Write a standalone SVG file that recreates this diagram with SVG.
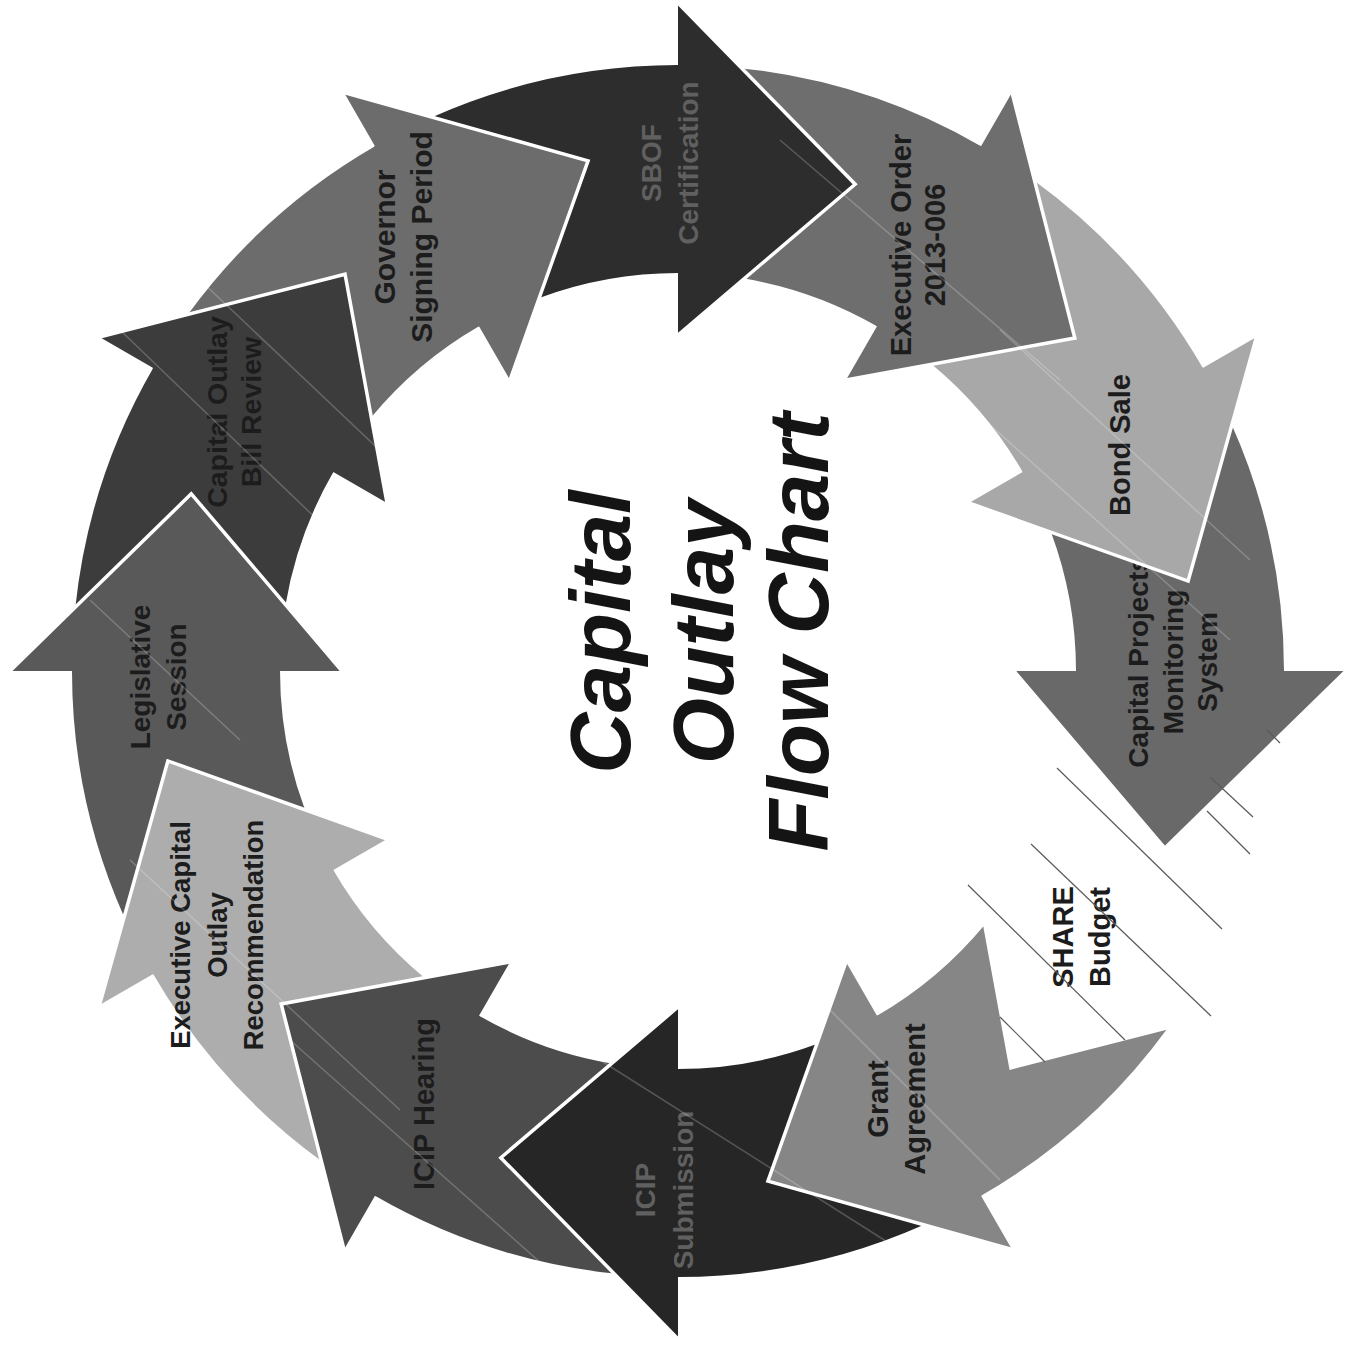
<svg xmlns="http://www.w3.org/2000/svg" xmlns:xlink="http://www.w3.org/1999/xlink" width="1349" height="1348" viewBox="0 0 1349 1348">
<style>
.lbl{font-family:"Liberation Sans",Arial,sans-serif;font-weight:bold;text-anchor:middle;fill:#1c1c1c}
.dim{fill:#606060}
.title{font-family:"Liberation Sans",Arial,sans-serif;font-weight:bold;font-style:italic;font-size:85px;text-anchor:middle;fill:#141414}
.hatch{stroke:#5a5a5a;stroke-width:1.2;fill:none}
.faint{stroke:#ffffff;stroke-opacity:0.22;stroke-width:1.5;fill:none}
</style>
<defs>
<path id="body" d="M 553.84 -245.97 A 606 606 0 0 1 606 0 L 398 0 A 398 398 0 0 0 373.03 -138.78 L 510.13 -89.95 Z"/>
<path id="head" d="M 606 -1.5 L 606 0 L 668 0 L 486.76 177.17 L 336 0 L 398 0 L 398 -1.5 Z"/>
<path id="edge" d="M 668 0 L 486.76 177.17 L 336 0" fill="none" stroke="#ffffff" stroke-width="3.5" stroke-linejoin="miter"/>
</defs>
<rect width="1349" height="1348" fill="#ffffff"/>
<g id="connectors"/>

<g id="cpms">
 <g transform="translate(678 671) rotate(0)"><use href="#body" fill="#696969"/><use href="#head" fill="#696969"/><use href="#edge"/></g>
 <text class="lbl" font-size="28" transform="translate(1148 662) rotate(-90)"><tspan x="0" y="0">Capital Projects</tspan><tspan x="0" dy="35">Monitoring</tspan><tspan x="0" dy="34">System</tspan></text>
</g>
<g id="bond-sale">
 <g transform="translate(678 671) rotate(-30)"><use href="#body" fill="#a8a8a8"/><use href="#head" fill="#a8a8a8"/><use href="#edge"/></g>
 <text class="lbl" font-size="29" transform="translate(1130 445) rotate(-90)">Bond Sale</text>
</g>
<g id="executive-order">
 <g transform="translate(678 671) rotate(-60)"><use href="#body" fill="#6e6e6e"/><use href="#head" fill="#6e6e6e"/><use href="#edge"/></g>
 <text class="lbl" font-size="29" transform="translate(911 245) rotate(-90)"><tspan x="0" y="0">Executive Order</tspan><tspan x="0" dy="34">2013-006</tspan></text>
</g>
<g id="sbof-certification">
 <g transform="translate(678 671) rotate(-90)"><use href="#body" fill="#2d2d2d"/><use href="#head" fill="#2d2d2d"/><use href="#edge"/></g>
 <text class="lbl dim" font-size="28" transform="translate(661 163) rotate(-90)"><tspan x="0" y="0">SBOF</tspan><tspan x="0" dy="37">Certification</tspan></text>
</g>
<g id="governor-signing">
 <g transform="translate(678 671) rotate(240)"><use href="#body" fill="#6c6c6c"/><use href="#head" fill="#6c6c6c"/><use href="#edge"/></g>
 <text class="lbl" font-size="30" transform="translate(395 237) rotate(-90)"><tspan x="0" y="0">Governor</tspan><tspan x="0" dy="37">Signing Period</tspan></text>
</g>
<g id="capital-outlay-bill-review">
 <g transform="translate(678 671) rotate(210)"><use href="#body" fill="#3c3c3c"/><use href="#head" fill="#3c3c3c"/><use href="#edge"/></g>
 <text class="lbl" font-size="28.5" fill="#262626" transform="translate(227 412) rotate(-90)"><tspan x="0" y="0">Capital Outlay</tspan><tspan x="0" dy="34">Bill Review</tspan></text>
</g>
<g id="legislative-session">
 <g transform="translate(678 671) rotate(180)"><use href="#body" fill="#595959"/><use href="#head" fill="#595959"/><use href="#edge"/></g>
 <text class="lbl" font-size="28" transform="translate(150 677) rotate(-90)"><tspan x="0" y="0">Legislative</tspan><tspan x="0" dy="36">Session</tspan></text>
</g>
<g id="executive-capital-outlay-recommendation">
 <g transform="translate(678 671) rotate(150)"><use href="#body" fill="#adadad"/><use href="#head" fill="#adadad"/><use href="#edge"/></g>
 <text class="lbl" font-size="27.5" transform="translate(190 935) rotate(-90)"><tspan x="0" y="0">Executive Capital</tspan><tspan x="0" dy="37">Outlay</tspan><tspan x="0" dy="36">Recommendation</tspan></text>
</g>
<g id="icip-hearing">
 <g transform="translate(678 671) rotate(120)"><use href="#body" fill="#4c4c4c"/><use href="#head" fill="#4c4c4c"/><use href="#edge"/></g>
 <text class="lbl" font-size="29" transform="translate(434 1104) rotate(-90)">ICIP Hearing</text>
</g>
<g id="icip-submission">
 <g transform="translate(678 671) rotate(90)"><use href="#body" fill="#262626"/><use href="#head" fill="#262626"/><use href="#edge"/></g>
 <text class="lbl dim" font-size="28" transform="translate(655 1190) rotate(-90)"><tspan x="0" y="0">ICIP</tspan><tspan x="0" dy="38">Submission</tspan></text>
</g>
<g id="grant-agreement">
 <g transform="translate(678 671) rotate(60)"><use href="#body" fill="#868686"/><use href="#head" fill="#868686"/><use href="#edge"/></g>
 <text class="lbl" font-size="29" transform="translate(888 1099) rotate(-90)"><tspan x="0" y="0">Grant</tspan><tspan x="0" dy="37">Agreement</tspan></text>
</g>
<g id="share-budget">
 <g transform="translate(678 671) rotate(30)"><use href="#body" fill="none"/><use href="#head" fill="none"/><use href="#edge"/></g>
 <text class="lbl" font-size="29" transform="translate(1073 937) rotate(-90)"><tspan x="0" y="0">SHARE</tspan><tspan x="0" dy="37">Budget</tspan></text>
</g>

<g id="scan-lines">
 <line class="hatch" x1="1057" y1="768" x2="1222" y2="929"/>
 <line class="hatch" x1="1031" y1="844" x2="1211" y2="1016"/>
 <line class="hatch" x1="968" y1="885" x2="1125" y2="1040"/>
 <line class="hatch" x1="1000" y1="1017" x2="1045" y2="1062"/>
 <line class="hatch" x1="1207" y1="811" x2="1250" y2="854"/>
 <line class="hatch" x1="1210" y1="777" x2="1253" y2="817"/>
 <line class="hatch" x1="1267" y1="730" x2="1280" y2="743"/>
 <line class="faint" x1="120" y1="330" x2="380" y2="580"/>
 <line class="faint" x1="200" y1="280" x2="390" y2="460"/>
 <line class="faint" x1="90" y1="600" x2="240" y2="740"/>
 <line class="faint" x1="130" y1="860" x2="400" y2="1110"/>
 <line class="faint" x1="290" y1="1040" x2="560" y2="1280"/>
 <line class="faint" x1="600" y1="1060" x2="900" y2="1250"/>
 <line class="faint" x1="820" y1="1000" x2="1000" y2="1180"/>
 <line class="faint" x1="940" y1="380" x2="1230" y2="640"/>
 <line class="faint" x1="1000" y1="330" x2="1250" y2="560"/>
 <line class="faint" x1="780" y1="140" x2="1060" y2="380"/>
</g>

<g id="title">
 <text class="title" transform="translate(630 632) rotate(-90)"><tspan x="0" y="0">Capital</tspan><tspan x="0" dy="103">Outlay</tspan><tspan x="0" dy="95">Flow Chart</tspan></text>
</g>
</svg>
